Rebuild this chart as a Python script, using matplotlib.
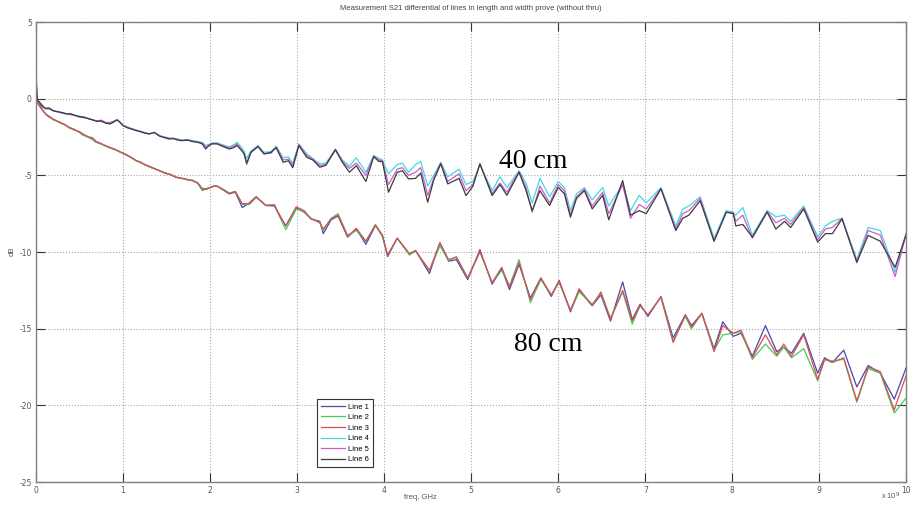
import numpy as np
import matplotlib
matplotlib.use('Agg')
import matplotlib.pyplot as plt

# 40 cm lines (Line 4, 5, 6), frequency in GHz, S21 in dB
f40 = [0, 0.01, 0.02, 0.04, 0.07, 0.11, 0.15, 0.2, 0.25, 0.3, 0.35, 0.4, 0.45, 0.5, 0.55, 0.6, 0.65, 0.7, 0.75, 0.8,
       0.85, 0.9, 0.93, 0.96, 1.0, 1.05, 1.1, 1.15, 1.2, 1.25, 1.3, 1.36, 1.42, 1.48, 1.53, 1.58, 1.63, 1.68, 1.74, 1.8,
       1.86, 1.91, 1.95, 1.98, 2.02, 2.08, 2.14, 2.22, 2.27, 2.31, 2.35, 2.39, 2.42, 2.47, 2.55, 2.62, 2.70, 2.76, 2.84, 2.90,
       2.95, 3.02, 3.11, 3.18, 3.26, 3.33, 3.44, 3.52, 3.60, 3.68, 3.79, 3.88, 3.94, 3.98, 4.05, 4.15, 4.21, 4.28, 4.36, 4.42,
       4.50, 4.57, 4.65, 4.73, 4.86, 4.94, 5.02, 5.10, 5.24, 5.33, 5.41, 5.55, 5.63, 5.70, 5.79, 5.90, 6.00, 6.07, 6.14, 6.21,
       6.30, 6.39, 6.51, 6.58, 6.74, 6.83, 6.93, 7.01, 7.18, 7.35, 7.43, 7.50, 7.63, 7.79, 7.93, 8.01, 8.04, 8.12, 8.23, 8.40,
       8.50, 8.60, 8.67, 8.82, 8.98, 9.07, 9.15, 9.26, 9.43, 9.56, 9.70, 9.87, 10.0]

line4 = [1.5, 0.2, -0.15, -0.3, -0.45, -0.6, -0.65, -0.75, -0.88, -0.92, -0.97, -1.02, -1.08, -1.15, -1.22, -1.28, -1.4, -1.45, -1.5, -1.55,
         -1.62, -1.5, -1.4, -1.52, -1.72, -1.88, -2.0, -2.05, -2.12, -2.2, -2.28, -2.22, -2.4, -2.5, -2.55, -2.58, -2.62, -2.7, -2.68, -2.72,
         -2.8, -2.85, -3.05, -3.0, -2.9, -2.88, -3.0, -3.15, -3.0, -2.85, -3.1, -3.4, -3.9, -3.4, -3.05, -3.5, -3.45, -3.1, -3.85, -3.8,
         -4.2, -2.95, -3.6, -3.9, -4.25, -4.2, -3.3, -4.0, -4.4, -3.85, -4.8, -3.7, -3.9, -4.0, -4.9, -4.3, -4.2, -4.8, -4.3, -4.1,
         -5.7, -5.0, -4.15, -5.1, -4.6, -5.6, -5.4, -4.3, -6.0, -5.1, -5.8, -4.7, -5.5, -6.8, -5.2, -6.4, -5.4, -5.8, -7.3, -6.2,
         -5.8, -6.6, -5.8, -7.0, -5.6, -7.3, -6.3, -6.8, -5.8, -8.3, -7.2, -7.0, -6.4, -9.1, -7.3, -7.4, -7.6, -7.1, -8.9, -7.3,
         -7.7, -7.6, -8.0, -7.0, -9.0, -8.3, -8.0, -7.8, -10.5, -8.4, -8.6, -11.3, -8.7]

line5 = [1.2, 0.1, -0.2, -0.2, -0.4, -0.65, -0.68, -0.78, -0.85, -0.95, -0.98, -1.05, -1.1, -1.2, -1.25, -1.3, -1.38, -1.45, -1.4, -1.55,
         -1.55, -1.45, -1.38, -1.52, -1.75, -1.85, -1.95, -2.05, -2.15, -2.22, -2.3, -2.2, -2.42, -2.52, -2.6, -2.6, -2.68, -2.72, -2.7, -2.78,
         -2.82, -2.9, -3.15, -3.05, -2.92, -2.92, -3.05, -3.22, -3.1, -2.95, -3.25, -3.55, -4.3, -3.5, -3.1, -3.6, -3.55, -3.15, -4.0, -3.95,
         -4.35, -3.0, -3.7, -3.95, -4.35, -4.3, -3.3, -4.1, -4.55, -4.2, -5.0, -3.75, -4.0, -4.05, -5.6, -4.6, -4.5, -5.0, -4.8, -4.5,
         -6.3, -5.2, -4.2, -5.4, -4.9, -6.0, -5.6, -4.25, -6.2, -5.5, -6.1, -4.75, -5.8, -7.4, -5.7, -6.8, -5.6, -6.0, -7.6, -6.4,
         -5.9, -7.0, -6.1, -7.5, -5.6, -7.8, -6.9, -7.2, -5.85, -8.5, -7.5, -7.3, -6.5, -9.3, -7.4, -7.45, -8.0, -7.6, -9.1, -7.35,
         -8.1, -7.8, -8.2, -7.1, -9.2, -8.5, -8.4, -7.8, -10.7, -8.6, -8.9, -11.6, -8.75]

line6 = [1.7, 0.3, -0.1, -0.25, -0.5, -0.65, -0.6, -0.8, -0.85, -0.9, -1.0, -0.98, -1.1, -1.17, -1.2, -1.3, -1.38, -1.48, -1.45, -1.6,
         -1.65, -1.5, -1.38, -1.5, -1.76, -1.9, -1.98, -2.08, -2.15, -2.25, -2.3, -2.2, -2.45, -2.55, -2.63, -2.6, -2.7, -2.74, -2.7, -2.8,
         -2.85, -2.95, -3.28, -3.1, -2.95, -2.95, -3.1, -3.28, -3.2, -3.05, -3.3, -3.58, -4.2, -3.5, -3.13, -3.6, -3.5, -3.2, -4.15, -4.05,
         -4.5, -3.06, -3.82, -4.0, -4.47, -4.35, -3.34, -4.15, -4.8, -4.37, -5.4, -3.78, -4.1, -4.1, -6.1, -4.8, -4.7, -5.23, -5.2, -4.85,
         -6.75, -5.3, -4.25, -5.56, -5.2, -6.32, -5.7, -4.25, -6.32, -5.6, -6.3, -4.8, -6.0, -7.3, -6.0, -6.97, -5.78, -6.2, -7.73, -6.5,
         -6.0, -7.19, -6.3, -7.9, -5.34, -7.6, -7.3, -7.5, -5.88, -8.6, -7.8, -7.6, -6.65, -9.29, -7.4, -7.5, -8.3, -8.2, -9.03, -7.4,
         -8.5, -8.0, -8.4, -7.19, -9.36, -8.8, -8.8, -7.84, -10.66, -8.92, -9.3, -11.0, -8.8]

# 80 cm lines (Line 1, 2, 3)
f80 = [0, 0.01, 0.02, 0.04, 0.07, 0.11, 0.15, 0.2, 0.27, 0.33, 0.38, 0.44, 0.5, 0.54, 0.6, 0.65, 0.69, 0.75, 0.8, 0.84,
       0.9, 0.95, 1.0, 1.05, 1.1, 1.15, 1.2, 1.25, 1.3, 1.36, 1.42, 1.49, 1.55, 1.6, 1.64, 1.7, 1.75, 1.8, 1.86, 1.91,
       1.96, 2.0, 2.04, 2.08, 2.15, 2.22, 2.29, 2.37, 2.45, 2.53, 2.64, 2.74, 2.80, 2.87, 2.99, 3.08, 3.16, 3.26, 3.30, 3.39,
       3.47, 3.58, 3.68, 3.79, 3.90, 3.98, 4.04, 4.15, 4.29, 4.36, 4.52, 4.64, 4.74, 4.83, 4.96, 5.10, 5.24, 5.35, 5.44, 5.55,
       5.68, 5.80, 5.92, 6.01, 6.14, 6.24, 6.39, 6.49, 6.60, 6.74, 6.85, 6.94, 7.03, 7.18, 7.32, 7.46, 7.53, 7.65, 7.79, 7.89,
       8.01, 8.10, 8.23, 8.38, 8.51, 8.59, 8.68, 8.82, 8.98, 9.06, 9.15, 9.28, 9.43, 9.56, 9.70, 9.86, 10.0]

line1 = [1.6, 0.2, -0.2, -0.4, -0.7, -1.0, -1.15, -1.35, -1.54, -1.7, -1.87, -2.0, -2.2, -2.37, -2.5, -2.65, -2.84, -2.95, -3.08, -3.17,
         -3.3, -3.42, -3.56, -3.7, -3.85, -4.04, -4.15, -4.3, -4.43, -4.55, -4.7, -4.87, -4.95, -5.1, -5.17, -5.22, -5.3, -5.34, -5.5, -5.95,
         -5.9, -5.8, -5.7, -5.7, -5.95, -6.21, -6.1, -7.1, -6.8, -6.4, -6.97, -7.0, -7.6, -8.3, -7.12, -7.4, -7.84, -8.0, -8.8, -7.9,
         -7.65, -9.03, -8.5, -9.5, -8.27, -8.9, -10.3, -9.1, -10.15, -9.9, -11.4, -9.4, -10.6, -10.5, -11.8, -9.85, -12.1, -11.1, -12.45, -10.8,
         -13.0, -11.7, -12.9, -11.85, -13.9, -12.5, -13.5, -12.8, -14.5, -11.95, -14.4, -13.4, -14.2, -12.9, -15.6, -14.1, -14.8, -14.0, -16.3, -14.55,
         -15.5, -15.3, -16.8, -14.8, -16.5, -16.2, -16.6, -15.3, -17.9, -16.9, -17.2, -16.4, -18.8, -17.4, -17.9, -19.6, -17.5]

line2 = [1.3, 0.0, -0.25, -0.45, -0.72, -0.98, -1.2, -1.33, -1.56, -1.72, -1.85, -2.02, -2.18, -2.35, -2.52, -2.68, -2.82, -2.97, -3.05, -3.2,
         -3.32, -3.4, -3.58, -3.72, -3.88, -4.02, -4.18, -4.28, -4.45, -4.58, -4.68, -4.85, -4.98, -5.08, -5.2, -5.2, -5.32, -5.3, -5.55, -6.0,
         -5.85, -5.78, -5.72, -5.68, -5.9, -6.15, -6.05, -6.9, -6.9, -6.45, -6.95, -6.9, -7.7, -8.55, -7.2, -7.35, -7.8, -8.1, -8.6, -7.8,
         -7.5, -8.9, -8.6, -9.3, -8.2, -9.0, -10.2, -9.1, -10.2, -9.95, -11.2, -9.6, -10.55, -10.3, -11.7, -10.0, -12.0, -11.2, -12.2, -10.5,
         -13.3, -11.8, -12.8, -12.0, -13.8, -12.6, -13.4, -12.7, -14.3, -12.6, -14.7, -13.5, -14.1, -12.95, -15.8, -14.2, -15.0, -14.0, -16.4, -15.4,
         -15.3, -15.2, -17.0, -16.0, -16.8, -16.2, -16.9, -16.3, -18.4, -17.0, -17.1, -17.0, -19.8, -17.6, -17.9, -20.5, -19.5]

line3 = [1.0, 0.1, -0.3, -0.5, -0.68, -1.02, -1.18, -1.38, -1.52, -1.68, -1.9, -2.05, -2.15, -2.3, -2.48, -2.55, -2.78, -2.93, -3.1, -3.15,
         -3.28, -3.45, -3.55, -3.68, -3.86, -4.05, -4.12, -4.32, -4.4, -4.56, -4.72, -4.85, -4.96, -5.12, -5.15, -5.24, -5.28, -5.36, -5.5, -5.85,
         -5.88, -5.82, -5.7, -5.72, -5.92, -6.2, -6.05, -6.85, -6.85, -6.4, -6.95, -6.95, -7.65, -8.3, -7.05, -7.3, -7.85, -8.05, -8.5, -7.85,
         -7.6, -9.0, -8.45, -9.3, -8.25, -8.95, -10.2, -9.1, -10.1, -9.9, -11.2, -9.4, -10.5, -10.35, -11.7, -9.95, -12.0, -11.0, -12.3, -10.7,
         -13.1, -11.7, -12.8, -11.9, -13.8, -12.4, -13.5, -12.6, -14.4, -12.5, -14.5, -13.5, -14.1, -12.95, -15.9, -14.1, -14.9, -14.0, -16.5, -14.8,
         -15.3, -15.1, -16.9, -15.4, -16.7, -16.0, -16.8, -15.4, -18.3, -17.0, -17.2, -16.9, -19.7, -17.5, -17.8, -20.3, -18.0]

names = ['Line 1', 'Line 2', 'Line 3', 'Line 4', 'Line 5', 'Line 6']
colors = ['#4848a8', '#44cc5c', '#dd4c58', '#44d8e0', '#cc5ccc', '#3c3c3c']

fig = plt.figure(figsize=(9.11, 5.07), dpi=100)
ax = fig.add_axes([0.0395, 0.0493, 0.9555, 0.9073])

series = [(f80, line1), (f80, line2), (f80, line3), (f40, line4), (f40, line5), (f40, line6)]
for (f, y), name, c in zip(series, names, colors):
    ax.plot(np.array(f) * 1e9, y, color=c, lw=0.9, label=name, solid_joinstyle='round')

ax.set_xlim(0, 1e10)
ax.set_ylim(-25, 5)
ax.set_xticks(np.arange(0, 11) * 1e9)
ax.set_xticklabels([str(i) for i in range(11)])
ax.set_yticks([5, 0, -5, -10, -15, -20, -25])
ax.set_yticklabels(['5', '0', '-5', '-10', '-15', '-20', '-25'])
ax.grid(True, linestyle=':', color='#a8a8a8', linewidth=0.8)
ax.tick_params(direction='in', length=6.3, width=0.8, colors='#333333', labelcolor='#555555',
               labelsize=5.5, top=True, right=True, pad=3)
for s in ax.spines.values():
    s.set_color('#808080')
    s.set_linewidth(1.0)

fig.text(0.517, 0.984, 'Measurement S21 differential of lines in length and width prove (without thru)',
         ha='center', va='center', fontsize=5.5, color='#444444', family='Liberation Sans')
fig.text(0.461, 0.018, 'freq, GHz', ha='center', va='center', fontsize=5.5, color='#555555', family='Liberation Sans')
fig.text(0.013, 0.505, 'dB', ha='center', va='center', rotation=90, fontsize=5.5, color='#555555', family='Liberation Sans')
fig.text(0.988, 0.009, r'x 10$^9$', ha='right', va='bottom', fontsize=5.3, color='#555555', family='Liberation Sans')

ax.text(5.71e9, -4.52, '40 cm', ha='center', va='baseline', fontsize=20, family='Liberation Serif')
ax.text(5.89e9, -16.45, '80 cm', ha='center', va='baseline', fontsize=20, family='Liberation Serif')

leg = ax.legend(loc='lower left', bbox_to_anchor=(0.3436, 0.071), bbox_transform=fig.transFigure,
                handlelength=3.2, handletextpad=0.4, labelspacing=0.42, borderpad=0.5,
                fancybox=False, framealpha=1, edgecolor='#333333', prop={'family': 'Liberation Sans', 'size': 5.5})
leg.get_frame().set_linewidth(0.8)

fig.savefig('out.png', dpi=100)
